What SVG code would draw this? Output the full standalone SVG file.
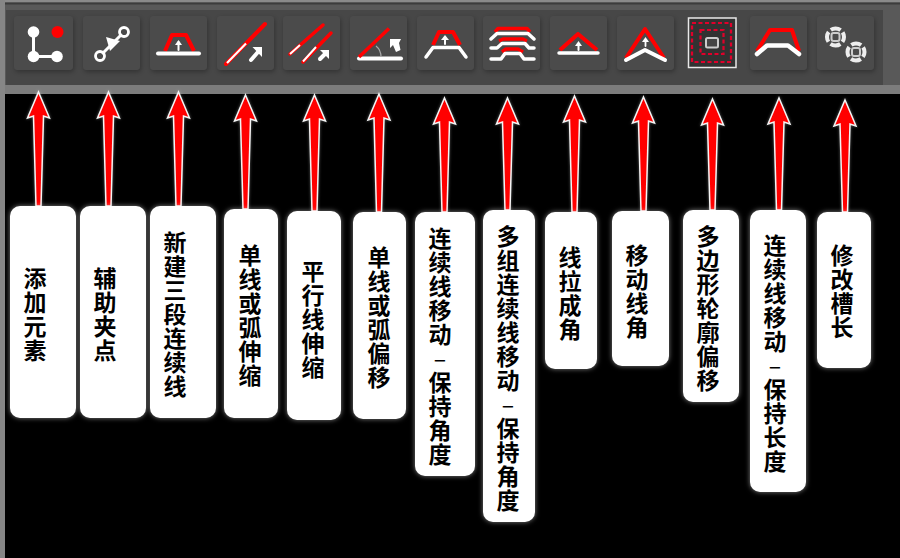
<svg xmlns="http://www.w3.org/2000/svg" width="900" height="558" viewBox="0 0 900 558">
<style>
.tile{fill:#4c4c4c;filter:url(#ts)}
.ic{filter:url(#soft)}
.w{fill:none;stroke:#fff;stroke-linecap:round;stroke-linejoin:round}
.r{fill:none;stroke:#f00;stroke-linejoin:round}
.wf{fill:#fff}
.rd{fill:none;stroke:#e0002a;stroke-width:2.2;stroke-dasharray:4 2.500}
.ar{fill:#f00;stroke:#f4f4f4;stroke-width:1.500;stroke-linejoin:miter}
.box{fill:#fff;filter:url(#gl)}
.lb{font-family:"Noto Sans CJK SC","Liberation Sans",sans-serif;font-size:23px;font-weight:700;fill:#000;writing-mode:vertical-rl;text-orientation:upright;letter-spacing:1px;text-anchor:start}
.ds{font-weight:400}
</style>
<defs>
<filter id="ts" x="-20%" y="-20%" width="140%" height="140%"><feDropShadow dx="1" dy="2" stdDeviation="2.500" flood-color="#000" flood-opacity=".3"/></filter>
<filter id="soft" x="-10%" y="-10%" width="120%" height="120%"><feGaussianBlur stdDeviation=".45"/></filter>
<filter id="gl" x="-20%" y="-10%" width="140%" height="120%"><feDropShadow dx="0" dy="0" stdDeviation="2.500" flood-color="#fff" flood-opacity=".5"/></filter>
<filter id="ag" x="-50%" y="-5%" width="200%" height="110%"><feDropShadow dx="0" dy="0" stdDeviation="1.500" flood-color="#fff" flood-opacity=".35"/></filter>
</defs>
<rect width="900" height="558" fill="#000"/>
<g id="toolbar">
<rect width="900" height="93" fill="#595959"/>
<rect width="900" height="2.500" fill="#8a8a8a"/>
<rect x="0" y="2.500" width="900" height="2" fill="#3c3c3c"/>
<rect x="6" y="10" width="877" height="75" fill="#474747"/>
<rect y="85" width="900" height="9" fill="#7c7c7c"/>
<rect y="0" width="5" height="558" fill="#868686"/>
<rect x="14" y="16" width="59" height="54" rx="4" class="tile"/>
<rect x="83" y="16" width="57" height="54" rx="4" class="tile"/>
<rect x="150" y="16" width="57" height="54" rx="4" class="tile"/>
<rect x="217" y="16" width="57" height="54" rx="4" class="tile"/>
<rect x="283" y="16" width="57" height="54" rx="4" class="tile"/>
<rect x="350" y="16" width="57" height="54" rx="4" class="tile"/>
<rect x="417" y="16" width="57" height="54" rx="4" class="tile"/>
<rect x="483" y="16" width="57" height="54" rx="4" class="tile"/>
<rect x="550" y="16" width="57" height="54" rx="4" class="tile"/>
<rect x="617" y="16" width="57" height="54" rx="4" class="tile"/>
<rect x="750" y="16" width="57" height="54" rx="4" class="tile"/>
<rect x="817" y="16" width="57" height="54" rx="4" class="tile"/>
</g>
<g id="icon1" class="ic"><path class="w" stroke-width="3" d="M33.500 32V56.500H57"/><circle class="wf" cx="33.500" cy="32" r="5.800"/><circle class="wf" cx="33.500" cy="56.500" r="5.800"/><circle class="wf" cx="57" cy="56.500" r="5.800"/><circle fill="#f00" cx="57.500" cy="32" r="6"/></g>
<g id="icon2" class="ic"><path class="w" stroke-width="3" d="M103 53 121 35"/><circle class="w" stroke-width="2.800" cx="124" cy="32" r="4.500"/><circle class="w" stroke-width="2.800" cx="100" cy="56" r="4.500"/><path class="wf" d="M106 37 120 41 110 51Z"/></g>
<g id="icon3" class="ic"><path class="r" stroke-width="4" d="M165 51 172 35H186L194 51"/><path class="w" stroke-width="4" stroke-linecap="butt" d="M158 53.500H199"/><path class="w" stroke-width="2" stroke-linecap="butt" d="M178.500 50V42"/><path class="wf" d="M178.500 40 182 45H175Z"/></g>
<g id="icon4" class="ic"><path stroke="#f00" stroke-width="4" stroke-linecap="round" d="M226 64 265 24"/><path stroke="#fff" stroke-width="2.200" d="M227 63 246 43.500"/><path class="w" stroke-width="4" stroke-linecap="butt" d="M251 60 258 52"/><path class="wf" d="M252.500 47H262V57Z"/></g>
<g id="icon5" class="ic"><path stroke="#f00" stroke-width="3.500" stroke-linecap="round" d="M290 54 323 25M303 62 331 33"/><path stroke="#fff" stroke-width="2" d="M290 54 300 45M303 61.500 316 47"/><path class="w" stroke-width="4" stroke-linecap="butt" d="M320 59 325 54"/><path class="wf" d="M320 50H329V59Z"/></g>
<g id="icon6" class="ic"><path class="w" stroke-width="4" stroke-linecap="butt" d="M359 58.500H401"/><path stroke="#f00" stroke-width="3.500" d="M359 57 389 28.500"/><path fill="none" stroke="#aaa" stroke-width="1.200" d="M376 46Q381 50 381 57"/><path class="wf" d="M390 39H401L399 43 400.500 50 396 52 393 45 390 48Z"/></g>
<g id="icon7" class="ic"><path class="r" stroke-width="4" d="M433 45 439 32H453L460 45"/><path class="w" stroke-width="3.500" d="M426 57 433 47.500H459L466 57"/><path class="w" stroke-width="2" stroke-linecap="butt" d="M445 44V38"/><path class="wf" d="M445 35 449 40H441Z"/></g>
<g id="icon8" class="ic"><path class="r" stroke-width="3.500" d="M495 32 498 28.500H527L530 32"/><path class="w" stroke-width="3.500" d="M491 39 497 33.500H528L534 39"/><path class="r" stroke-width="3.500" d="M499 41 503 39H523L527 41"/><path class="w" stroke-width="3.500" d="M491 48H497L502 43.500H525L529 48H534"/><path class="r" stroke-width="3.500" d="M502 52 506 49H518L523 52"/><path class="w" stroke-width="3.500" d="M491 59H501L505 53.500H520L524 59H534"/></g>
<g id="icon9" class="ic"><path class="r" stroke-width="4" d="M560 50 578 34 597 50"/><path class="w" stroke-width="3.500" stroke-linecap="butt" d="M559 53H598"/><path class="w" stroke-width="2" stroke-linecap="butt" d="M578.500 50V44"/><path class="wf" d="M578.500 41 582 46H575Z"/></g>
<g id="icon10" class="ic"><path class="r" stroke-width="4" d="M626 58 645 29 664 58"/><path class="w" stroke-width="4" d="M626 60 645 50 665 60"/><path class="w" stroke-width="1.800" stroke-linecap="butt" d="M645.500 46V41"/><path class="wf" d="M645.500 37 649 42H642Z"/></g>
<g id="icon11" class="ic"><rect x="688.500" y="18" width="47.500" height="49.500" fill="#333" stroke="#e8e8e8" stroke-width="1.500"/><rect class="rd" x="692" y="23" width="39" height="39"/><rect class="rd" x="700.500" y="30" width="23" height="24"/><rect x="706" y="38" width="12" height="9.500" rx="1.500" fill="#444" stroke="#ccc" stroke-width="2"/></g>
<g id="icon12" class="ic"><path class="r" stroke-width="4" d="M757 51 770 30H792L799 51"/><path class="w" stroke-width="4.500" d="M757 54 767 45.500H788L799 54"/></g>
<g id="icon13" class="ic"><circle cx="835.500" cy="37" r="8.500" fill="none" stroke="#eee" stroke-width="4" stroke-dasharray="10.400 2.950" stroke-dashoffset="5.200"/><rect x="831.500" y="33" width="8" height="8" rx="2" fill="none" stroke="#ccc" stroke-width="2"/><circle cx="856" cy="52" r="8.500" fill="none" stroke="#eee" stroke-width="4" stroke-dasharray="10.400 2.950" stroke-dashoffset="5.200"/><rect x="852" y="48" width="8" height="8" rx="2" fill="none" stroke="#ccc" stroke-width="2"/></g>
<g id="connectors" filter="url(#ag)">
<path class="ar" d="M38.500 92 49.500 118 43.500 116 41 206H36L33.500 116 27.500 118Z"/>
<path class="ar" d="M108.500 92 119.500 118 113.500 116 111 206H106L103.500 116 97.500 118Z"/>
<path class="ar" d="M178.500 92 189.500 118 183.500 116 181 206H176L173.500 116 167.500 118Z"/>
<path class="ar" d="M245.500 95 256.500 121 250.500 119 248 209H243L240.500 119 234.500 121Z"/>
<path class="ar" d="M314.500 95 325.500 121 319.500 119 317 211H312L309.500 119 303.500 121Z"/>
<path class="ar" d="M379 94 390 120 384 118 381.500 212H376.500L374 118 368 120Z"/>
<path class="ar" d="M444.500 98 455.500 124 449.500 122 447 212H442L439.500 122 433.500 124Z"/>
<path class="ar" d="M507.500 98 518.500 124 512.500 122 510 210H505L502.500 122 496.500 124Z"/>
<path class="ar" d="M574.500 96 585.500 122 579.500 120 577 212H572L569.500 120 563.500 122Z"/>
<path class="ar" d="M643.500 97 654.500 123 648.500 121 646 211H641L638.500 121 632.500 123Z"/>
<path class="ar" d="M712.500 99 723.500 125 717.500 123 715 210H710L707.500 123 701.500 125Z"/>
<path class="ar" d="M779 98 790 124 784 122 781.500 210H776.500L774 122 768 124Z"/>
<path class="ar" d="M845 100 856 126 850 124 847.500 212H842.500L840 124 834 126Z"/>
</g>
<g id="node1"><rect class="box" x="10" y="206" width="66" height="212" rx="10"/><text class="lb" x="35" y="267">添加元素</text></g>
<g id="node2"><rect class="box" x="80" y="206" width="66" height="212" rx="10"/><text class="lb" x="105" y="267">辅助夹点</text></g>
<g id="node3"><rect class="box" x="150" y="206" width="66" height="212" rx="10"/><text class="lb" x="175" y="231">新建三段连续线</text></g>
<g id="node4"><rect class="box" x="224" y="209" width="54" height="209" rx="10"/><text class="lb" x="250" y="244">单线或弧伸缩</text></g>
<g id="node5"><rect class="box" x="287" y="211" width="54" height="209" rx="10"/><text class="lb" x="313" y="260">平行线伸缩</text></g>
<g id="node6"><rect class="box" x="353" y="212" width="53" height="207" rx="10"/><text class="lb" x="379" y="246">单线或弧偏移</text></g>
<g id="node7"><rect class="box" x="415" y="212" width="60" height="264" rx="10"/><text class="lb" x="440" y="227">连续线移动<tspan class="ds">–</tspan>保持角度</text></g>
<g id="node8"><rect class="box" x="483" y="210" width="52" height="312" rx="10"/><text class="lb" x="508" y="225">多组连续线移动<tspan class="ds">–</tspan>保持角度</text></g>
<g id="node9"><rect class="box" x="545" y="212" width="52" height="157" rx="10"/><text class="lb" x="570" y="246">线拉成角</text></g>
<g id="node10"><rect class="box" x="612" y="211" width="57" height="155" rx="10"/><text class="lb" x="637" y="244">移动线角</text></g>
<g id="node11"><rect class="box" x="683" y="210" width="56" height="192" rx="10"/><text class="lb" x="708" y="225">多边形轮廓偏移</text></g>
<g id="node12"><rect class="box" x="750" y="210" width="56" height="282" rx="10"/><text class="lb" x="775" y="234">连续线移动<tspan class="ds">–</tspan>保持长度</text></g>
<g id="node13"><rect class="box" x="817" y="212" width="54" height="156" rx="10"/><text class="lb" x="842" y="244">修改槽长</text></g>
</svg>
